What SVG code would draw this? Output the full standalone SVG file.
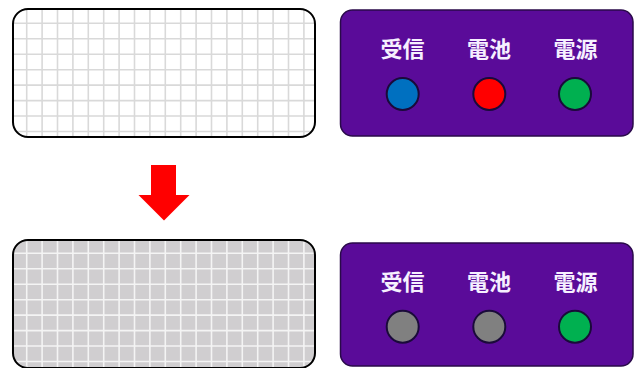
<svg xmlns="http://www.w3.org/2000/svg" width="634" height="368" viewBox="0 0 634 368">
<style>
.frame{fill:none;stroke:#000;stroke-width:2}
.panel{fill:#5a0b99;stroke:#2a0a4a;stroke-width:1.5}
.lbl{font-family:"Noto Sans CJK JP","Noto Sans CJK SC",sans-serif;font-weight:bold;font-size:22px;fill:#f6f0ff;text-anchor:middle}
.led{stroke:#1a0a3a;stroke-width:2}
.gridA{stroke:#d9d9d9;stroke-width:1.6;fill:none}
.gridB{stroke:#f4f4f4;stroke-width:1.6;fill:none}
</style>
<defs>
<clipPath id="c1"><rect x="13" y="9" width="302" height="128" rx="15"/></clipPath>
<clipPath id="c2"><rect x="13" y="240" width="302" height="128" rx="15"/></clipPath>
</defs>
<g id="display-before">
<rect x="13" y="9" width="302" height="128" rx="15" fill="#fff"/>
<g clip-path="url(#c1)">
<path class="gridA" d="M26.7 0V368M42.1 0V368M57.5 0V368M72.9 0V368M88.3 0V368M103.7 0V368M119.1 0V368M134.5 0V368M149.9 0V368M165.3 0V368M180.7 0V368M196.1 0V368M211.5 0V368M226.9 0V368M242.3 0V368M257.7 0V368M273.1 0V368M288.5 0V368M303.9 0V368M0 23.3H330M0 38.8H330M0 54.2H330M0 69.7H330M0 85.1H330M0 100.6H330M0 116H330M0 131.5H330"/>
</g>
<rect class="frame" x="13" y="9" width="302" height="128" rx="15"/>
</g>
<g id="panel-before">
<rect class="panel" x="340.5" y="10" width="292.5" height="126" rx="12"/>
<text class="lbl" x="402.5" y="57">受信</text>
<text class="lbl" x="489" y="57">電池</text>
<text class="lbl" x="575.5" y="57">電源</text>
<circle class="led" cx="402.7" cy="94" r="16" fill="#0070c0"/>
<circle class="led" cx="489.3" cy="94" r="16" fill="#ff0000"/>
<circle class="led" cx="575" cy="94" r="16" fill="#00b050"/>
</g>
<g id="arrow">
<path d="M151 165H176V195H189.5L164 220.5L138.5 195H151Z" fill="#ff0000"/>
</g>
<g id="display-after">
<rect x="13" y="240" width="302" height="128" rx="15" fill="#d0ced0"/>
<g clip-path="url(#c2)">
<path class="gridB" d="M26.7 230V368M42.1 230V368M57.5 230V368M72.9 230V368M88.3 230V368M103.7 230V368M119.1 230V368M134.5 230V368M149.9 230V368M165.3 230V368M180.7 230V368M196.1 230V368M211.5 230V368M226.9 230V368M242.3 230V368M257.7 230V368M273.1 230V368M288.5 230V368M303.9 230V368M0 253.3H330M0 268.8H330M0 284.2H330M0 299.7H330M0 315.1H330M0 330.6H330M0 346H330M0 361.5H330"/>
</g>
<rect class="frame" x="13" y="240" width="302" height="128" rx="15"/>
</g>
<g id="panel-after">
<rect class="panel" x="340.5" y="243" width="292.5" height="123" rx="12"/>
<text class="lbl" x="402.5" y="290">受信</text>
<text class="lbl" x="489" y="290">電池</text>
<text class="lbl" x="575.5" y="290">電源</text>
<circle class="led" cx="402.7" cy="326.7" r="16" fill="#808080"/>
<circle class="led" cx="489.3" cy="326.7" r="16" fill="#808080"/>
<circle class="led" cx="575" cy="326.7" r="16" fill="#00b050"/>
</g>
</svg>
